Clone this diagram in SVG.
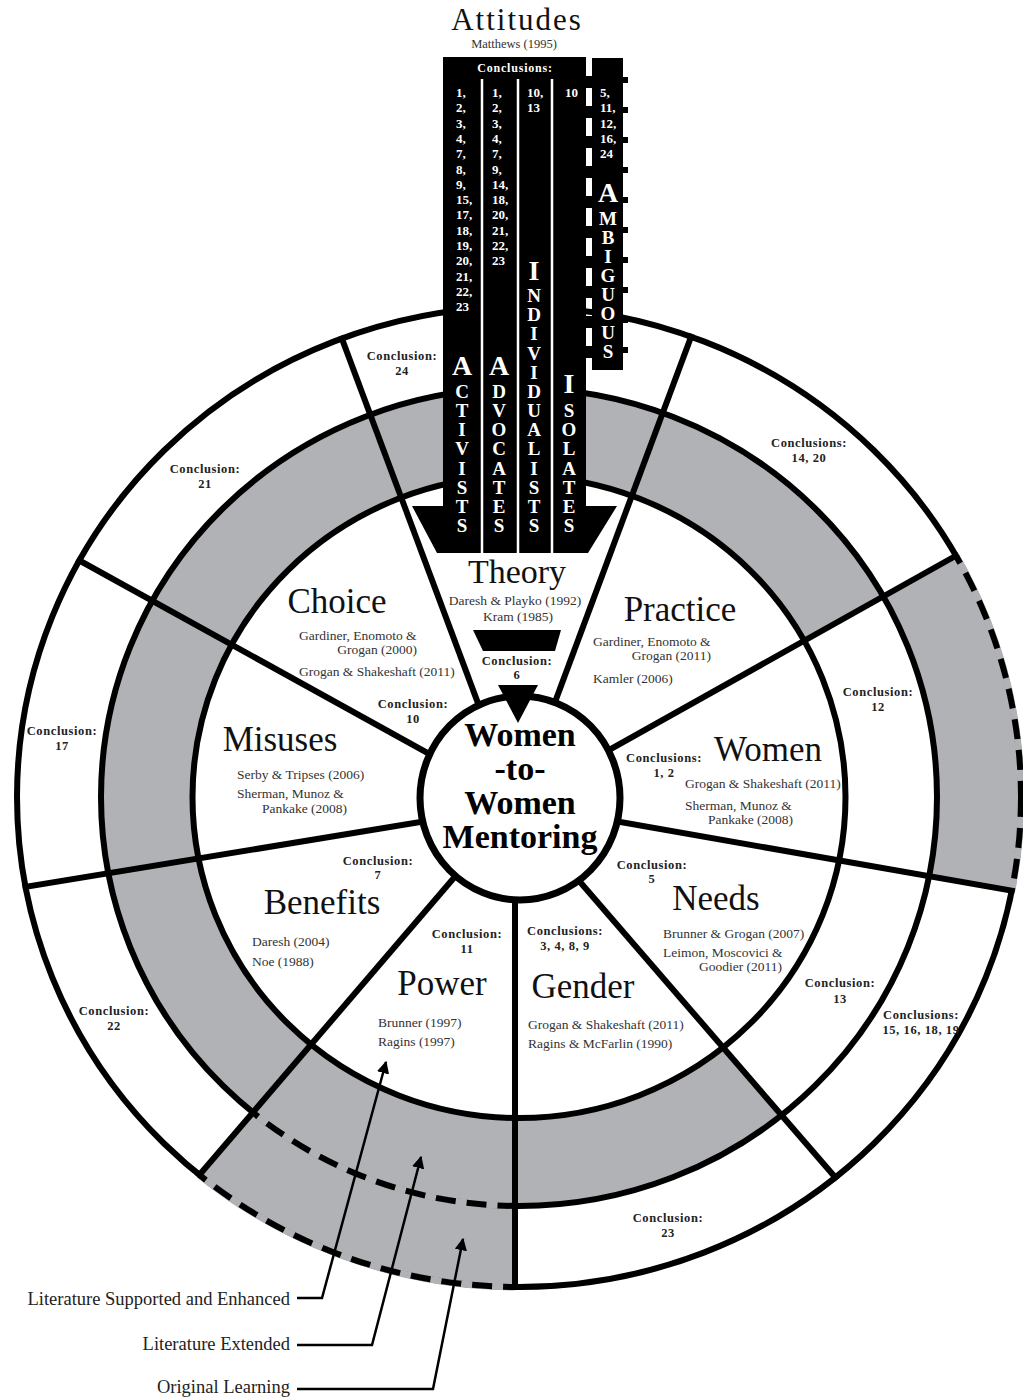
<svg xmlns="http://www.w3.org/2000/svg" width="1023" height="1397" viewBox="0 0 1023 1397">
<style>
text{font-family:"Liberation Serif","Times New Roman",serif}
.ttl{font-size:35px;fill:#111;text-anchor:middle}
.ref{font-size:13.5px;fill:#333}
.end{text-anchor:end}
.mid{text-anchor:middle}
.cl{font-weight:bold;font-size:12.5px;letter-spacing:0.6px;fill:#222;text-anchor:middle}
.wn{fill:#fff;font-weight:bold;font-size:13px}
.vl{fill:#fff;font-weight:bold;font-size:19px;text-anchor:middle}
.vb{font-size:28px}
.ctr{font-weight:bold;font-size:34px;fill:#000;text-anchor:middle}
.leg{font-size:18.5px;fill:#222;text-anchor:end}
.ring{fill:none;stroke:#000;stroke-width:6}
.gap{fill:none;stroke:#b1b2b6;stroke-width:7}
.dash{fill:none;stroke:#000;stroke-width:6;stroke-dasharray:20 11}
.spoke{stroke:#000;stroke-width:6;fill:none}
.conn{fill:none;stroke:#000;stroke-width:2.5;marker-end:url(#ah)}
</style>
<defs>
<marker id="ah" viewBox="0 0 10 10" refX="9" refY="5" markerWidth="5" markerHeight="5" orient="auto" markerUnits="strokeWidth"><path d="M0,0 L10,5 L0,10 z" fill="#000"/></marker>
<clipPath id="cR2"><path d="M101,797 a418,409 0 1,0 836,0 a418,409 0 1,0 -836,0z"/></clipPath>
<clipPath id="cOut"><path clip-rule="evenodd" d="M17,797 a502,490 0 1,0 1004,0 a502,490 0 1,0 -1004,0z M101,797 a418,409 0 1,0 836,0 a418,409 0 1,0 -836,0z"/></clipPath>
<clipPath id="cR3"><path d="M14,797 a505,493 0 1,0 1010,0 a505,493 0 1,0 -1010,0z"/></clipPath>
<clipPath id="cBL"><polygon points="518,803 -313,1771 515,1771 515,803"/></clipPath>
<clipPath id="cRG"><polygon points="518,801 1644,171 1801,171 1801,1030 518,804"/></clipPath>
</defs>
<rect width="1023" height="1397" fill="#fff"/>

<g id="rings">
<path fill="#b1b2b6" fill-rule="evenodd" d="M101,797 a418,409 0 1,0 836,0 a418,409 0 1,0 -836,0z M192.5,797 a326.5,321 0 1,0 653,0 a326.5,321 0 1,0 -653,0z"/>
<polygon points="518,801 1644,171 1700,171 1700,1800 1339,1761 517,809" fill="#fff" clip-path="url(#cR2)"/>
<g clip-path="url(#cOut)" fill="#b1b2b6">
<polygon points="518,801 1644,171 1801,171 1801,1030 518,804"/>
<polygon points="518,803 -313,1771 515,1771 515,803"/>
</g>
<ellipse class="ring" cx="519" cy="797" rx="326.5" ry="321"/>
<ellipse class="ring" cx="519" cy="797" rx="418" ry="409"/>
<ellipse class="ring" cx="519" cy="797" rx="502" ry="490"/>
<g clip-path="url(#cBL)">
<ellipse class="gap" cx="519" cy="797" rx="418" ry="409"/>
<ellipse class="dash" cx="519" cy="797" rx="418" ry="409"/>
<ellipse class="gap" cx="519" cy="797" rx="502" ry="490"/>
<ellipse class="dash" cx="519" cy="797" rx="502" ry="490"/>
</g>
<g clip-path="url(#cRG)">
<ellipse class="gap" cx="519" cy="797" rx="502" ry="490"/>
<ellipse class="dash" cx="519" cy="797" rx="502" ry="490"/>
</g>
</g>

<g id="connectors">
<g clip-path="url(#cR3)">
<line class="spoke" x1="513" y1="797" x2="323" y2="288"/>
<line class="spoke" x1="520" y1="796" x2="710" y2="286"/>
<line class="spoke" x1="518" y1="801" x2="1009" y2="526"/>
<line class="spoke" x1="518" y1="804" x2="1076" y2="902"/>
<line class="spoke" x1="517" y1="809" x2="873" y2="1221"/>
<line class="spoke" x1="515" y1="850" x2="515" y2="1320"/>
<line class="spoke" x1="518" y1="803" x2="159" y2="1222"/>
<line class="spoke" x1="518" y1="806" x2="-36" y2="897"/>
<line class="spoke" x1="518" y1="803" x2="26" y2="531"/>
</g>
<path class="conn" d="M297,1298 H322 L386,1062"/>
<path class="conn" d="M297,1345 H372 L421,1157"/>
<path class="conn" d="M297,1389 H433 L463,1239"/>
</g>

<g id="center">
<ellipse cx="520" cy="798" rx="100" ry="102" fill="#fff" stroke="#000" stroke-width="7"/>
<polygon points="498,685 538,685 518,723" fill="#000"/>
<text class="ctr"><tspan x="520" y="746">Women</tspan><tspan x="520" y="780">-to-</tspan><tspan x="520" y="814">Women</tspan><tspan x="520" y="848">Mentoring</tspan></text>
</g>

<g id="attitudes">
<text x="517" y="30" style="font-size:31px;letter-spacing:2px;fill:#111;text-anchor:middle">Attitudes</text>
<text class="mid" x="514" y="48" style="font-size:12.5px;fill:#333">Matthews (1995)</text>
<polygon points="443,57 586,57 586,506 617,506 588,553 437,553 412,506 443,506" fill="#000"/>
<g stroke="#fff" stroke-width="2.5">
<line x1="482" y1="79" x2="482" y2="553"/>
<line x1="518" y1="79" x2="518" y2="553"/>
<line x1="552" y1="79" x2="552" y2="553"/>
</g>
<rect x="592" y="58" width="31" height="312" fill="#000"/>
<line x1="589" y1="58" x2="589" y2="372" stroke="#000" stroke-width="7" stroke-dasharray="12 18" stroke-dashoffset="12"/>
<line x1="625" y1="58" x2="625" y2="372" stroke="#000" stroke-width="6" stroke-dasharray="6 24" stroke-dashoffset="11"/>
<text x="515" y="72" style="fill:#fff;font-weight:bold;font-size:12px;letter-spacing:0.8px;text-anchor:middle">Conclusions:</text>
<text class="wn"><tspan x="456" y="97">1,</tspan><tspan x="456" y="112.3">2,</tspan><tspan x="456" y="127.6">3,</tspan><tspan x="456" y="142.9">4,</tspan><tspan x="456" y="158.2">7,</tspan><tspan x="456" y="173.5">8,</tspan><tspan x="456" y="188.8">9,</tspan><tspan x="456" y="204.1">15,</tspan><tspan x="456" y="219.4">17,</tspan><tspan x="456" y="234.7">18,</tspan><tspan x="456" y="250">19,</tspan><tspan x="456" y="265.3">20,</tspan><tspan x="456" y="280.6">21,</tspan><tspan x="456" y="295.9">22,</tspan><tspan x="456" y="311.2">23</tspan></text>
<text class="wn"><tspan x="492" y="97">1,</tspan><tspan x="492" y="112.3">2,</tspan><tspan x="492" y="127.6">3,</tspan><tspan x="492" y="142.9">4,</tspan><tspan x="492" y="158.2">7,</tspan><tspan x="492" y="173.5">9,</tspan><tspan x="492" y="188.8">14,</tspan><tspan x="492" y="204.1">18,</tspan><tspan x="492" y="219.4">20,</tspan><tspan x="492" y="234.7">21,</tspan><tspan x="492" y="250">22,</tspan><tspan x="492" y="265.3">23</tspan></text>
<text class="wn"><tspan x="527" y="97">10,</tspan><tspan x="527" y="112.3">13</tspan></text>
<text class="wn"><tspan x="565" y="97">10</tspan></text>
<text class="wn"><tspan x="600" y="97">5,</tspan><tspan x="600" y="112.3">11,</tspan><tspan x="600" y="127.6">12,</tspan><tspan x="600" y="142.9">16,</tspan><tspan x="600" y="158.2">24</tspan></text>
<text class="vl"><tspan class="vb" x="462" y="375">A</tspan><tspan x="462" y="398">C</tspan><tspan x="462" y="417">T</tspan><tspan x="462" y="436">I</tspan><tspan x="462" y="455">V</tspan><tspan x="462" y="475">I</tspan><tspan x="462" y="494">S</tspan><tspan x="462" y="513">T</tspan><tspan x="462" y="532">S</tspan></text>
<text class="vl"><tspan class="vb" x="499" y="375">A</tspan><tspan x="499" y="398">D</tspan><tspan x="499" y="417">V</tspan><tspan x="499" y="436">O</tspan><tspan x="499" y="455">C</tspan><tspan x="499" y="475">A</tspan><tspan x="499" y="494">T</tspan><tspan x="499" y="513">E</tspan><tspan x="499" y="532">S</tspan></text>
<text class="vl"><tspan class="vb" x="534" y="280">I</tspan><tspan x="534" y="302">N</tspan><tspan x="534" y="321">D</tspan><tspan x="534" y="340">I</tspan><tspan x="534" y="360">V</tspan><tspan x="534" y="379">I</tspan><tspan x="534" y="398">D</tspan><tspan x="534" y="417">U</tspan><tspan x="534" y="436">A</tspan><tspan x="534" y="455">L</tspan><tspan x="534" y="475">I</tspan><tspan x="534" y="494">S</tspan><tspan x="534" y="513">T</tspan><tspan x="534" y="532">S</tspan></text>
<text class="vl"><tspan class="vb" x="569" y="393">I</tspan><tspan x="569" y="417">S</tspan><tspan x="569" y="436">O</tspan><tspan x="569" y="455">L</tspan><tspan x="569" y="475">A</tspan><tspan x="569" y="494">T</tspan><tspan x="569" y="513">E</tspan><tspan x="569" y="532">S</tspan></text>
<text class="vl"><tspan class="vb" x="608" y="202">A</tspan><tspan x="608" y="225">M</tspan><tspan x="608" y="244">B</tspan><tspan x="608" y="263">I</tspan><tspan x="608" y="282">G</tspan><tspan x="608" y="301">U</tspan><tspan x="608" y="320">O</tspan><tspan x="608" y="339">U</tspan><tspan x="608" y="358">S</tspan></text>
</g>

<g id="theory">
<text class="ttl" x="517" y="583" style="font-size:34px">Theory</text>
<text class="ref mid" x="515" y="605">Daresh &amp; Playko (1992)</text>
<text class="ref mid" x="518" y="621">Kram (1985)</text>
<polygon points="473,630 561,630 555,651 483,651" fill="#000"/>
<text class="cl" x="517" y="665">Conclusion:</text>
<text class="cl" x="517" y="679">6</text>
</g>

<g id="choice">
<text class="ttl" x="337" y="613">Choice</text>
<text class="ref" x="299" y="640">Gardiner, Enomoto &amp;</text>
<text class="ref end" x="417" y="654">Grogan (2000)</text>
<text class="ref" x="299" y="676">Grogan &amp; Shakeshaft (2011)</text>
<text class="cl" x="413" y="708">Conclusion:</text>
<text class="cl" x="413" y="723">10</text>
</g>

<g id="practice">
<text class="ttl" x="680" y="621">Practice</text>
<text class="ref" x="593" y="646">Gardiner, Enomoto &amp;</text>
<text class="ref end" x="711" y="660">Grogan (2011)</text>
<text class="ref" x="593" y="683">Kamler (2006)</text>
</g>

<g id="misuses">
<text class="ttl" x="280" y="751">Misuses</text>
<text class="ref" x="237" y="779">Serby &amp; Tripses (2006)</text>
<text class="ref" x="237" y="798">Sherman, Munoz &amp;</text>
<text class="ref end" x="347" y="813">Pankake (2008)</text>
</g>

<g id="women">
<text class="ttl" x="768" y="761">Women</text>
<text class="cl" x="664" y="762">Conclusions:</text>
<text class="cl" x="664" y="777">1, 2</text>
<text class="ref" x="685" y="788">Grogan &amp; Shakeshaft (2011)</text>
<text class="ref" x="685" y="810">Sherman, Munoz &amp;</text>
<text class="ref end" x="793" y="824">Pankake (2008)</text>
</g>

<g id="benefits">
<text class="cl" x="378" y="865">Conclusion:</text>
<text class="cl" x="378" y="879">7</text>
<text class="ttl" x="322" y="914">Benefits</text>
<text class="ref" x="252" y="946">Daresh (2004)</text>
<text class="ref" x="252" y="966">Noe (1988)</text>
</g>

<g id="power">
<text class="cl" x="467" y="938">Conclusion:</text>
<text class="cl" x="467" y="953">11</text>
<text class="ttl" x="442" y="995">Power</text>
<text class="ref" x="378" y="1027">Brunner (1997)</text>
<text class="ref" x="378" y="1046">Ragins (1997)</text>
</g>

<g id="needs">
<text class="cl" x="652" y="869">Conclusion:</text>
<text class="cl" x="652" y="883">5</text>
<text class="ttl" x="716" y="910">Needs</text>
<text class="ref" x="663" y="938">Brunner &amp; Grogan (2007)</text>
<text class="ref" x="663" y="957">Leimon, Moscovici &amp;</text>
<text class="ref end" x="782" y="971">Goodier (2011)</text>
</g>

<g id="gender">
<text class="cl" x="565" y="935">Conclusions:</text>
<text class="cl" x="565" y="950">3, 4, 8, 9</text>
<text class="ttl" x="583" y="998">Gender</text>
<text class="ref" x="528" y="1029">Grogan &amp; Shakeshaft (2011)</text>
<text class="ref" x="528" y="1048">Ragins &amp; McFarlin (1990)</text>
</g>

<g id="outer-labels">
<text class="cl" x="402" y="360">Conclusion:</text><text class="cl" x="402" y="375">24</text>
<text class="cl" x="205" y="473">Conclusion:</text><text class="cl" x="205" y="488">21</text>
<text class="cl" x="62" y="735">Conclusion:</text><text class="cl" x="62" y="750">17</text>
<text class="cl" x="114" y="1015">Conclusion:</text><text class="cl" x="114" y="1030">22</text>
<text class="cl" x="809" y="447">Conclusions:</text><text class="cl" x="809" y="462">14, 20</text>
<text class="cl" x="878" y="696">Conclusion:</text><text class="cl" x="878" y="711">12</text>
<text class="cl" x="840" y="987">Conclusion:</text><text class="cl" x="840" y="1003">13</text>
<text class="cl" x="921" y="1019">Conclusions:</text><text class="cl" x="921" y="1034">15, 16, 18, 19</text>
<text class="cl" x="668" y="1222">Conclusion:</text><text class="cl" x="668" y="1237">23</text>
</g>

<g id="legend">
<text class="leg" x="290" y="1305">Literature Supported and Enhanced</text>
<text class="leg" x="290" y="1350">Literature Extended</text>
<text class="leg" x="290" y="1393">Original Learning</text>
</g>
</svg>
